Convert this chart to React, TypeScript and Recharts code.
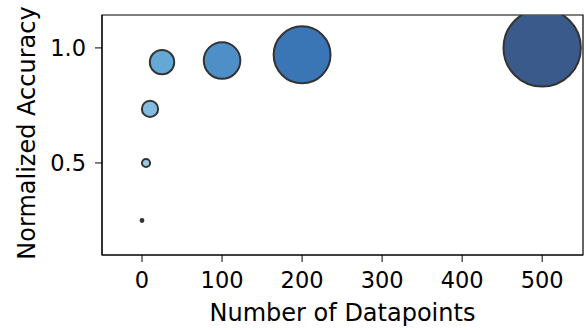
import { ScatterChart, Scatter, XAxis, YAxis, ZAxis, Cell, ReferenceArea } from "recharts";

const datapoints = [0, 5, 10, 25, 100, 200, 500];
const accuracy = [0.25, 0.5, 0.735, 0.938, 0.945, 0.97, 1.0];
// marker size weights (area-like)
const markerSize = [2, 16, 64, 144, 324, 784, 1450];
const colors = ["#2b3a55", "#9ecae1", "#82bbdf", "#64a8d6", "#4d8fc6", "#3a76b5", "#3b5a8c"];

const xTicks = [0, 100, 200, 300, 400, 500];
const yTicks = [0.5, 1.0];

const data = datapoints.map((n, i) => ({ n, acc: accuracy[i], s: markerSize[i] }));

const font = "DejaVu Sans";
const fs = 22.5;
const labelFs = 24;

export default function App() {
  return (
    <div style={{ position: "absolute", left: 0, top: 0, background: "#fff" }}>
      <ScatterChart
        width={586}
        height={330}
        margin={{ top: 15, right: 3, left: 0, bottom: 0 }}
        style={{ fontFamily: font }}
      >
        <XAxis
          type="number"
          dataKey="n"
          domain={[-50, 551]}
          ticks={xTicks}
          allowDataOverflow
          height={75}
          tickSize={7}
          tickMargin={10}
          stroke="#000"
          tick={{ fill: "#000", fontSize: fs }}
          label={{ value: "Number of Datapoints", position: "insideBottom", offset: 9, fill: "#000", fontSize: labelFs }}
        />
        <YAxis
          type="number"
          dataKey="acc"
          domain={[0.1, 1.143]}
          ticks={yTicks}
          allowDataOverflow
          width={102}
          tickSize={7}
          tickMargin={9}
          stroke="#000"
          tickFormatter={(v: number) => v.toFixed(1)}
          tick={{ fill: "#000", fontSize: fs }}
          label={{ value: "Normalized Accuracy", angle: -90, position: "insideLeft", offset: 26, dy: -2, style: { textAnchor: "middle" }, fill: "#000", fontSize: labelFs }}
        />
        <ZAxis type="number" dataKey="s" domain={[0, 1450]} range={[0, 4700]} />
        <Scatter data={data} isAnimationActive={false} stroke="#333" strokeWidth={2}>
          {data.map((d, i) => (
            <Cell key={d.n} fill={colors[i]} />
          ))}
        </Scatter>
        <ReferenceArea x1={-50} x2={551} y1={0.1} y2={1.143} fill="none" stroke="#000" strokeWidth={1.2} fillOpacity={0} />
      </ScatterChart>
    </div>
  );
}
